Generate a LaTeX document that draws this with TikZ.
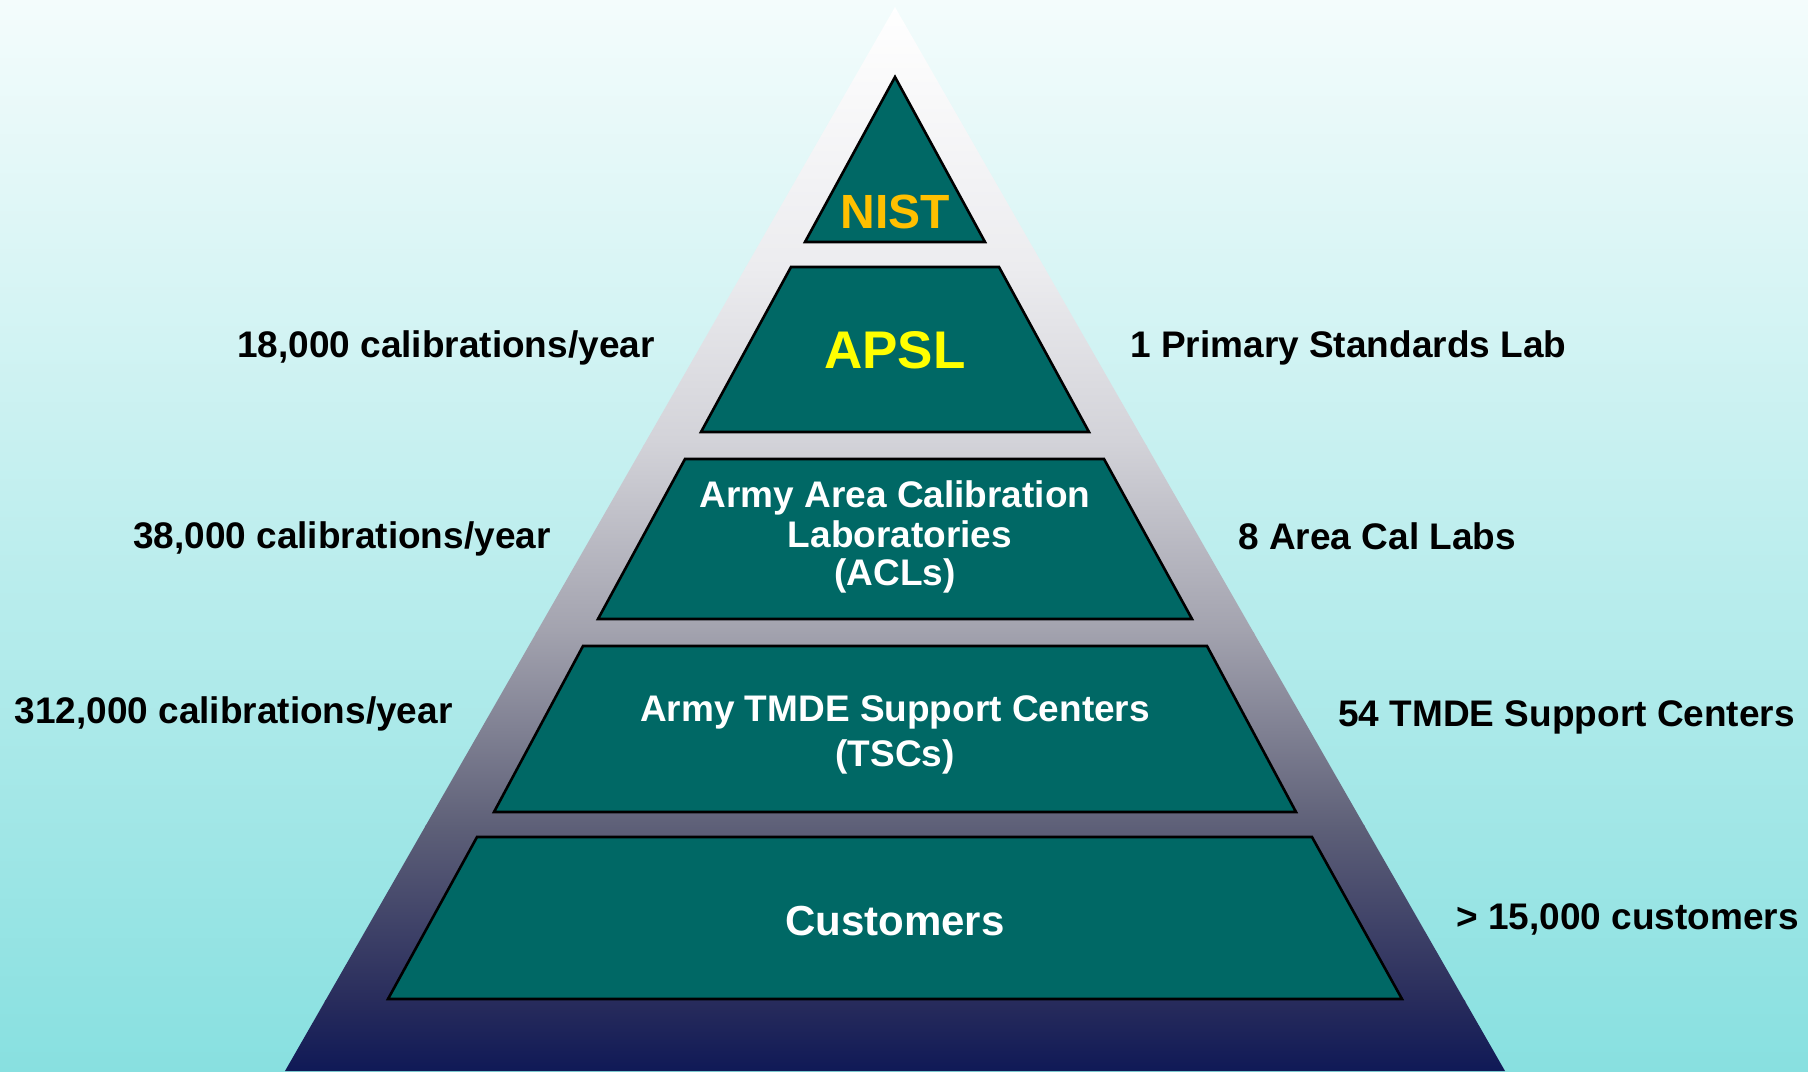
\documentclass[tikz,border=0pt]{standalone}
\usepackage{fontspec}
\setmainfont{Liberation Sans}
\definecolor{bgtop}{HTML}{F4FCFC}
\definecolor{bgbot}{HTML}{88E0E0}
\definecolor{tierfill}{HTML}{006865}
\definecolor{nistcol}{HTML}{FFC000}
\definecolor{apslcol}{HTML}{FFFF00}
\definecolor{ga}{HTML}{FFFFFF}
\definecolor{gb}{HTML}{ECECEF}
\definecolor{gc}{HTML}{D2D2D8}
\definecolor{gd}{HTML}{A2A2AE}
\definecolor{ge}{HTML}{5E6078}
\definecolor{gf}{HTML}{282C5C}
\definecolor{gg}{HTML}{0E1856}
\begin{document}
\begin{tikzpicture}[x=0.5pt,y=-0.5pt,
  tierbox/.style={fill=tierfill, draw=black, line width=1.3pt, line join=miter},
  side/.style={font=\fontsize{18.5}{22}\selectfont\bfseries, text=black, inner sep=0pt},
  mid/.style={font=\fontsize{18.5}{22}\selectfont\bfseries, text=white, inner sep=0pt, anchor=base}]
\useasboundingbox (0,0) rectangle (1808,1071);
% background
\shade[top color=bgtop, bottom color=bgbot] (0,0) rectangle (1808,1071);
% outer pyramid
\begin{scope}
  \clip (895,7) -- (1505,1071) -- (285,1071) -- cycle;
  \shade[top color=ga, bottom color=gb] (280,5) rectangle (1510,268);
  \shade[top color=gb, bottom color=gc] (280,267) rectangle (1510,446);
  \shade[top color=gc, bottom color=gd] (280,445) rectangle (1510,633);
  \shade[top color=gd, bottom color=ge] (280,632) rectangle (1510,826);
  \shade[top color=ge, bottom color=gf] (280,825) rectangle (1510,1001);
  \shade[top color=gf, bottom color=gg] (280,1000) rectangle (1510,1075);
\end{scope}
% tiers
\path[tierbox] (895,77) -- (985,242) -- (805,242) -- cycle;
\path[tierbox] (791,267) -- (999,267) -- (1089,432) -- (701,432) -- cycle;
\path[tierbox] (685,459) -- (1104,459) -- (1192,619) -- (598,619) -- cycle;
\path[tierbox] (583,646) -- (1207,646) -- (1296,812) -- (494,812) -- cycle;
\path[tierbox] (477,837) -- (1312,837) -- (1402,999) -- (388,999) -- cycle;
% tier texts
\node[mid, text=nistcol, font=\fontsize{24}{28}\selectfont\bfseries] (nist) at (895,228) {NIST};
\node[mid, text=apslcol, font=\fontsize{26.5}{30}\selectfont\bfseries] (apsl) at (895,368) {APSL};
\node[mid] (acla) at (895,507) {Army Area Calibration};
\node[mid] (aclb) at (900,547) {Laboratories};
\node[mid] (aclc) at (895,585) {(ACLs)};
\node[mid] (tsca) at (895,721) {Army TMDE Support Centers};
\node[mid] (tscb) at (895,766) {(TSCs)};
\node[mid, font=\fontsize{21}{25}\selectfont\bfseries] (cust) at (895,935) {Customers};
% side labels
\node[side, anchor=base east] (l1) at (655,357) {18,000 calibrations/year};
\node[side, anchor=base east] (l2) at (551,548) {38,000 calibrations/year};
\node[side, anchor=base east] (l3) at (453,723) {312,000 calibrations/year};
\node[side, anchor=base west] (r1) at (1130,357) {1 Primary Standards Lab};
\node[side, anchor=base west] (r2) at (1238,549) {8 Area Cal Labs};
\node[side, anchor=base west] (r3) at (1338,726) {54 TMDE Support Centers};
\node[side, anchor=base west] (r4) at (1456,929) {> 15,000 customers};
\end{tikzpicture}
\end{document}
